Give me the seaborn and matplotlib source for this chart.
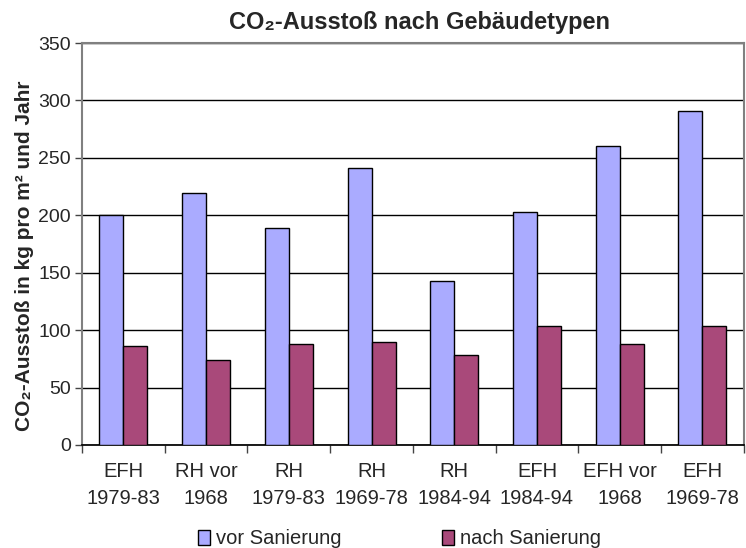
import pandas as pd
import matplotlib.pyplot as plt
import seaborn as sns

# data
gebaeude = ["EFH\n1979-83", "RH vor\n1968", "RH\n1979-83", "RH\n1969-78",
            "RH\n1984-94", "EFH\n1984-94", "EFH vor\n1968", "EFH\n1969-78"]
vor_sanierung = [200, 219, 189, 241, 143, 203, 260, 291]
nach_sanierung = [86, 74, 88, 90, 78, 104, 88, 104]
serien = ["vor Sanierung", "nach Sanierung"]

df = pd.DataFrame({
    "typ": gebaeude * 2,
    "wert": vor_sanierung + nach_sanierung,
    "zustand": [serien[0]] * len(gebaeude) + [serien[1]] * len(gebaeude),
})

sns.set_theme(style="white")
plt.rcParams['font.family'] = ['Liberation Sans', 'DejaVu Sans']

fig, ax = plt.subplots(figsize=(7.46, 5.48), dpi=100)
fig.subplots_adjust(left=0.11, right=0.997, top=0.9215, bottom=0.188)

sns.barplot(data=df, x="typ", y="wert", hue="zustand", palette=["#AAABFF", "#A9497A"],
            width=0.58, edgecolor="black", linewidth=1, saturation=1, ax=ax, zorder=3)

ax.set_ylim(0, 350)
ax.set_yticks(range(0, 351, 50))
ax.set_xlim(-0.5, len(gebaeude) - 0.5)
ax.yaxis.grid(True, color="black", linewidth=1)
ax.set_axisbelow(True)

# tick marks between categories
ax.set_xticks([i + 0.5 for i in range(-1, len(gebaeude))], minor=True)
ax.tick_params(axis="x", which="minor", length=6, color="#444444", width=1, direction="out", bottom=True)
ax.tick_params(axis="x", which="major", length=0, labelsize=14.5, pad=12)
ax.tick_params(axis="y", length=5, color="#444444", width=1, direction="out", left=True, labelsize=14, pad=3)
for lbl in ax.get_xticklabels():
    lbl.set_linespacing(1.55)

for s in ["left", "top", "right"]:
    ax.spines[s].set_color("#808080")
    ax.spines[s].set_linewidth(1.5)
ax.spines["bottom"].set_color("black")

ax.set_xlabel("")
ax.set_ylabel("CO₂-Ausstoß in kg pro m² und Jahr", fontsize=15, fontweight="bold")
ax.yaxis.set_label_coords(-0.072, 0.47)
ax.set_title("CO₂-Ausstoß nach Gebäudetypen", x=0.51, fontsize=17, fontweight="bold", pad=10)

ax.legend(loc="upper center", bbox_to_anchor=(0.48, -0.19), ncol=2, frameon=False,
          fontsize=14.5, handlelength=0.6, handleheight=0.8, handletextpad=0.3,
          columnspacing=5.0, borderaxespad=0)

plt.savefig("out.png", dpi=100)
